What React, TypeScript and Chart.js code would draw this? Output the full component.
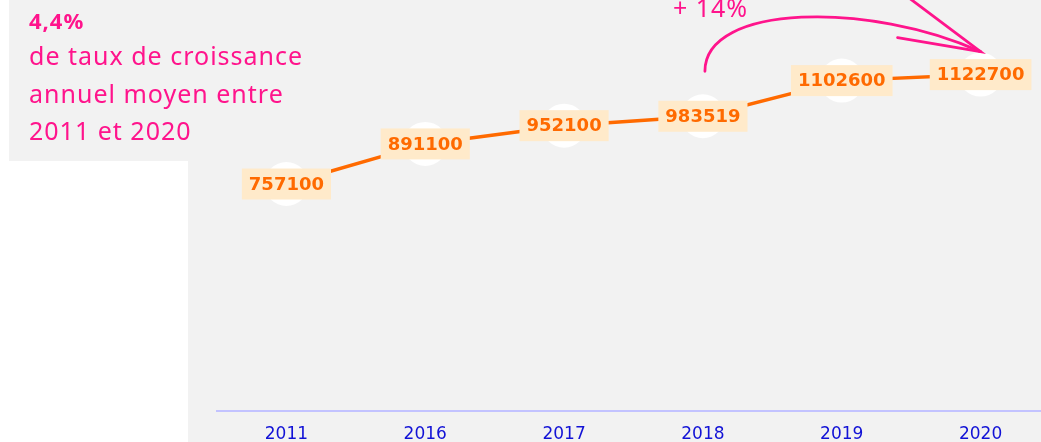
import React, { useEffect, useRef } from "react";
import { Chart, registerables } from "chart.js";

Chart.register(...registerables);

const categories = ["2011", "2016", "2017", "2018", "2019", "2020"];
const values = [757100, 891100, 952100, 983519, 1102600, 1122700];
const headline = "4,4%";
const captionLines = ["de taux de croissance", "annuel moyen entre", "2011 et 2020"];
const growthLabel = "+ 14%";

const PINK = "#ff148c";
const ORANGE = "#ff6a00";
const LABEL_BG = "#ffeaca";
const GRAY = "#f2f2f2";

const labelPlugin = {
  id: "valueLabels",
  afterDatasetsDraw(chart: any) {
    const ctx = chart.ctx;
    const meta = chart.getDatasetMeta(0);
    ctx.save();
    ctx.font = "bold 18px 'DejaVu Sans'";
    ctx.textAlign = "center";
    ctx.textBaseline = "middle";
    meta.data.forEach((pt: any, i: number) => {
      const txt = String(chart.data.datasets[0].data[i]);
      const w = ctx.measureText(txt).width + 14;
      const h = 31;
      ctx.fillStyle = LABEL_BG;
      ctx.fillRect(pt.x - w / 2, pt.y - h / 2, w, h);
      ctx.fillStyle = ORANGE;
      ctx.fillText(txt, pt.x, pt.y + 1);
    });
    ctx.restore();
  },
};

const arrowPlugin = {
  id: "growthArrow",
  afterDraw(chart: any) {
    const ctx = chart.ctx;
    const meta = chart.getDatasetMeta(0);
    const p3 = meta.data[3];
    const p5 = meta.data[5];
    if (!p3 || !p5) return;
    const sx = p3.x + 2;
    const sy = p3.y - 45;
    const ex = p5.x;
    const ey = p5.y - 23;
    ctx.save();
    ctx.strokeStyle = PINK;
    ctx.lineWidth = 2.8;
    ctx.lineCap = "round";
    ctx.beginPath();
    ctx.moveTo(sx, sy);
    ctx.bezierCurveTo(sx, sy - 68, ex - 110, ey - 50, ex, ey);
    ctx.stroke();
    ctx.beginPath();
    ctx.moveTo(ex - 83, ey - 14);
    ctx.lineTo(ex, ey);
    ctx.lineTo(ex - 72, ey - 54);
    ctx.stroke();
    ctx.fillStyle = PINK;
    ctx.font = "25px 'Noto Sans'";
    (ctx as any).letterSpacing = "1px";
    ctx.textAlign = "left";
    ctx.textBaseline = "alphabetic";
    ctx.fillText(growthLabel, p3.x - 30, 17);
    ctx.restore();
  },
};

export default function App() {
  const canvasRef = useRef<HTMLCanvasElement | null>(null);

  useEffect(() => {
    if (!canvasRef.current) return;
    const chart = new Chart(canvasRef.current, {
      type: "line",
      data: {
        labels: categories,
        datasets: [
          {
            data: values,
            borderColor: ORANGE,
            borderWidth: 3.5,
            pointRadius: 22,
            pointHoverRadius: 22,
            pointBackgroundColor: "#ffffff",
            pointBorderWidth: 0,
            tension: 0,
            clip: false as any,
          },
        ],
      },
      options: {
        responsive: false,
        animation: false,
        events: [],
        layout: { autoPadding: false, padding: { left: 29, right: 2, top: 0, bottom: 0 } },
        plugins: {
          legend: { display: false },
          tooltip: { enabled: false },
          title: { display: false },
        },
        scales: {
          x: {
            type: "category",
            offset: true,
            grid: { display: false, drawTicks: false },
            border: { display: true, color: "#c3c3ff", width: 2 },
            ticks: {
              color: "#1212d6",
              font: { family: "'DejaVu Sans'", size: 17 },
              padding: 14,
              maxRotation: 0,
              autoSkip: false,
            },
          },
          y: {
            display: false,
            min: 0,
            max: 1372000,
          },
        },
      },
      plugins: [labelPlugin, arrowPlugin],
    });
    return () => chart.destroy();
  }, []);

  return (
    <div
      style={{
        position: "fixed",
        left: 0,
        top: 0,
        width: 1041,
        height: 442,
        overflow: "hidden",
        background: "#ffffff",
      }}
    >
      <canvas
        ref={canvasRef}
        width={864}
        height={459}
        style={{
          position: "absolute",
          left: 188,
          top: 0,
          width: 864,
          height: 459,
          background: GRAY,
        }}
      />
      <div
        style={{
          position: "absolute",
          left: 9,
          top: 0,
          width: 179,
          height: 161,
          background: GRAY,
        }}
      />
      <div
        style={{
          position: "absolute",
          left: 29,
          top: 4.5,
          height: 30,
          lineHeight: "30px",
          fontFamily: "'Noto Sans'",
          fontWeight: 700,
          fontSize: 22,
          letterSpacing: 1,
          color: PINK,
          whiteSpace: "nowrap",
        }}
      >
        {headline}
      </div>
      {captionLines.map((line, i) => (
        <div
          key={i}
          style={{
            position: "absolute",
            left: 29,
            top: 38.3 + i * 37.5,
            height: 34,
            lineHeight: "34px",
            fontFamily: "'Noto Sans'",
            fontSize: 25,
            letterSpacing: 1,
            color: PINK,
            whiteSpace: "nowrap",
          }}
        >
          {line}
        </div>
      ))}
    </div>
  );
}
